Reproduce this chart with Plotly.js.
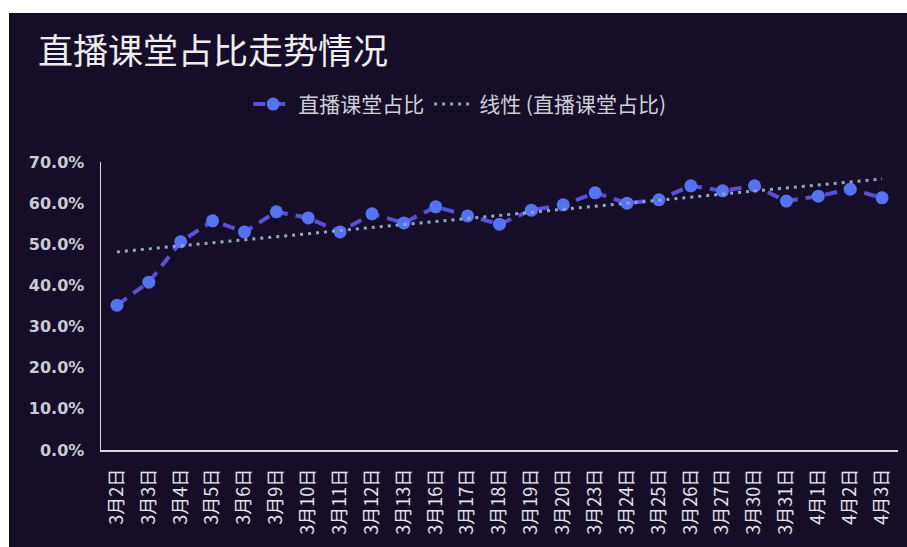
<!DOCTYPE html>
<html>
<head>
<meta charset="utf-8">
<script src="https://cdn.plot.ly/plotly-3.0.1.min.js"></script>
<style>
  html, body { margin: 0; padding: 0; background: #ffffff; }
  #chart { position: absolute; left: 9px; top: 13px; width: 898px; height: 534px; }
</style>
</head>
<body>
<div id="chart"></div>
<script>
const categories = ["3月2日","3月3日","3月4日","3月5日","3月6日","3月9日","3月10日","3月11日","3月12日","3月13日","3月16日","3月17日","3月18日","3月19日","3月20日","3月23日","3月24日","3月25日","3月26日","3月27日","3月30日","3月31日","4月1日","4月2日","4月3日"];
const liveShare = [0.352, 0.408, 0.506, 0.557, 0.530, 0.579, 0.564, 0.530, 0.574, 0.552, 0.591, 0.569, 0.549, 0.583, 0.596, 0.625, 0.600, 0.608, 0.642, 0.630, 0.642, 0.605, 0.617, 0.634, 0.613];
const seriesName = "直播课堂占比";
const trendName = "线性 (直播课堂占比)";
const titleText = "直播课堂占比走势情况";

// linear trendline (least squares over category index), as the chart's "线性" trendline
const n = liveShare.length;
let sx = 0, sy = 0, sxx = 0, sxy = 0;
liveShare.forEach((v, i) => { sx += i; sy += v; sxx += i * i; sxy += i * v; });
const slope = (n * sxy - sx * sy) / (n * sxx - sx * sx);
const intercept = (sy - slope * sx) / n;
const trend = liveShare.map((v, i) => intercept + slope * i);

const cjk = '"Noto Sans CJK SC", "Noto Sans", sans-serif';

const traces = [
  {
    type: 'scatter', mode: 'lines+markers', name: seriesName,
    x: categories, y: liveShare,
    line: { color: '#5a4fd6', width: 4, dash: '12px,8px' },
    marker: { color: '#5572f2', size: 13, symbol: 'circle' }
  },
  {
    type: 'scatter', mode: 'lines', name: trendName,
    x: categories, y: trend,
    line: { color: '#8fa6c4', width: 3, dash: '3px,5px' }
  }
];

const layout = {
  width: 898, height: 534,
  paper_bgcolor: '#160e29', plot_bgcolor: '#160e29',
  margin: { l: 92, r: 9, t: 149, b: 97 },
  title: {
    text: titleText, x: 29 / 898, xref: 'container', xanchor: 'left',
    y: 1 - 39 / 534, yref: 'container', yanchor: 'middle',
    font: { family: cjk, size: 35, color: '#eeeeee' }
  },
  showlegend: true,
  legend: {
    orientation: 'h', x: 0.45, xanchor: 'center', y: 1.2, yanchor: 'middle',
    font: { family: cjk, size: 21, color: '#cfcfd8' },
    bgcolor: 'rgba(0,0,0,0)', itemwidth: 40
  },
  xaxis: {
    type: 'category', showgrid: false, zeroline: false,
    showline: true, linecolor: '#d9d9d9', linewidth: 1.5,
    tickangle: -90, ticks: '', ticklabelstandoff: 10,
    tickfont: { family: cjk, size: 18, color: '#e2e2ea' },
    range: [-0.5, categories.length - 0.5]
  },
  yaxis: {
    range: [0, 0.7], dtick: 0.1, tickformat: '.1%',
    showgrid: false, zeroline: false,
    showline: true, linecolor: '#d9d9d9', linewidth: 1.5,
    ticks: '', ticklabelstandoff: 12,
    tickfont: { family: '"DejaVu Sans", sans-serif', size: 16, color: '#cbcbd4', weight: 'bold' }
  }
};

Plotly.newPlot('chart', traces, layout, { displayModeBar: false, staticPlot: true });
</script>
</body>
</html>
